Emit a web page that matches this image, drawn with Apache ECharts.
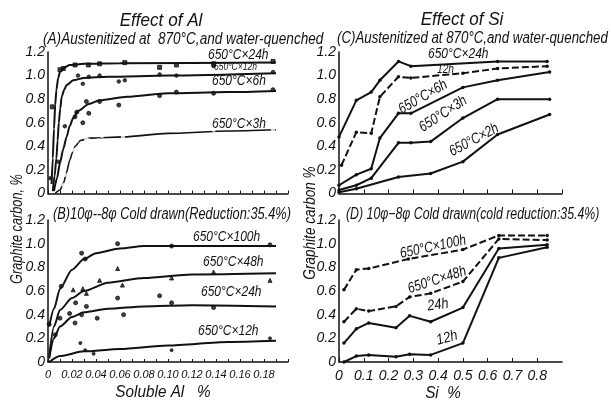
<!DOCTYPE html>
<html><head><meta charset="utf-8">
<script src="https://cdn.jsdelivr.net/npm/echarts@6/dist/echarts.min.js"></script>
<style>html,body{margin:0;padding:0;background:#fff}#c{width:611px;height:400px}</style>
</head><body><div id="c"></div>
<script>
// ---- Panel A: Effect of Al, austenitized 870°C & water-quenched ----
const alA24Pts = [[0.0036,0.735],[0.010,1.05],[0.0128,1.06],[0.0225,1.09],[0.0336,1.09],[0.043,1.10],[0.064,1.11],[0.093,1.07],[0.107,1.09],[0.138,1.10],[0.1875,1.12]];
const alA24Fit = [[0.003,0.08],[0.004,0.3],[0.005,0.55],[0.006,0.75],[0.007,0.88],[0.0085,0.98],[0.010,1.03],[0.014,1.07],[0.018,1.09],[0.03,1.10],[0.06,1.105],[0.19,1.11]];
const alA12Pts = [[0.002,0.13],[0.0086,0.27],[0.014,0.57],[0.025,1.0],[0.029,0.93],[0.034,0.99],[0.043,1.0],[0.059,0.95],[0.064,0.96],[0.093,1.01],[0.107,1.0],[0.138,1.08],[0.1875,1.03]];
const alA12Fit = [[0.004,0.02],[0.0055,0.15],[0.007,0.3],[0.008,0.45],[0.009,0.6],[0.0102,0.72],[0.0114,0.82],[0.0135,0.88],[0.0155,0.92],[0.021,0.96],[0.03,0.98],[0.05,0.99],[0.10,1.0],[0.19,1.02]];
const alA6Pts = [[0.0225,0.65],[0.024,0.69],[0.029,0.60],[0.032,0.78],[0.034,0.68],[0.043,0.78],[0.059,0.75],[0.093,0.83],[0.107,0.86],[0.138,0.85],[0.1875,0.88]];
const alA6Fit = [[0.005,0.02],[0.0075,0.13],[0.010,0.26],[0.0128,0.38],[0.0155,0.48],[0.018,0.57],[0.021,0.64],[0.025,0.70],[0.034,0.76],[0.043,0.79],[0.066,0.82],[0.10,0.85],[0.15,0.86],[0.19,0.87]];
const alA3Pts = [[0.013,0.07],[0.014,0.16],[0.021,0.37],[0.024,0.45],[0.029,0.31],[0.032,0.46],[0.034,0.45],[0.042,0.45],[0.045,0.49],[0.059,0.41],[0.0625,0.48],[0.093,0.48],[0.106,0.54],[0.138,0.54],[0.1875,0.54]];
const alA3Fit = [[0.006,0],[0.010,0.03],[0.013,0.09],[0.0155,0.18],[0.018,0.28],[0.0205,0.35],[0.0225,0.40],[0.027,0.45],[0.035,0.47],[0.063,0.48],[0.10,0.51],[0.15,0.53],[0.19,0.54]];

// ---- Panel B: Effect of Al, cold drawn ----
const alB100Pts = [[0.001,0.32],[0.011,0.64],[0.028,0.92],[0.031,0.87],[0.058,1.0],[0.103,0.98],[0.185,0.99]];
const alB100Fit = [[0.001,0.30],[0.005,0.45],[0.010,0.62],[0.020,0.78],[0.030,0.87],[0.040,0.92],[0.060,0.96],[0.080,0.98],[0.12,0.98],[0.19,0.98]];
const alB48Pts = [[0.021,0.61],[0.029,0.62],[0.032,0.58],[0.043,0.69],[0.058,0.79],[0.062,0.65],[0.103,0.71],[0.138,0.76],[0.185,0.69]];
const alB48Fit = [[0.001,0.05],[0.005,0.30],[0.010,0.44],[0.020,0.54],[0.030,0.60],[0.050,0.67],[0.080,0.71],[0.12,0.74],[0.19,0.75]];
const alB24Pts = [[0.006,0.23],[0.010,0.37],[0.018,0.41],[0.0225,0.33],[0.023,0.50],[0.028,0.40],[0.032,0.47],[0.041,0.37],[0.058,0.54],[0.063,0.40],[0.093,0.56],[0.103,0.50],[0.138,0.46]];
const alB24Fit = [[0.001,0.03],[0.005,0.20],[0.010,0.30],[0.020,0.38],[0.030,0.42],[0.050,0.45],[0.080,0.47],[0.12,0.48],[0.19,0.47]];
const alB12Pts = [[0.027,0.16],[0.031,0.10],[0.038,0.07],[0.103,0.10],[0.185,0.20]];
const alB12Fit = [[0.001,0],[0.010,0.05],[0.030,0.09],[0.060,0.11],[0.10,0.14],[0.15,0.17],[0.19,0.18]];

// ---- Panel C: Effect of Si, austenitized ----
const siC24 = [[0,0.48],[0.07,0.79],[0.13,0.86],[0.165,0.96],[0.24,1.12],[0.29,1.08],[0.64,1.12],[0.84,1.12]];
const siC12 = [[0.01,0.24],[0.07,0.52],[0.13,0.51],[0.165,0.82],[0.24,0.99],[0.29,0.98],[0.50,1.02],[0.64,1.06],[0.84,1.08]];
const siC6 = [[0,0.07],[0.07,0.16],[0.13,0.21],[0.165,0.47],[0.24,0.68],[0.29,0.68],[0.50,0.90],[0.64,0.96],[0.85,1.03]];
const siC3 = [[0,0.03],[0.07,0.07],[0.13,0.13],[0.24,0.43],[0.29,0.43],[0.37,0.44],[0.50,0.64],[0.64,0.80],[0.85,0.80]];
const siC2 = [[0,0.01],[0.07,0.04],[0.24,0.14],[0.37,0.17],[0.50,0.27],[0.64,0.50],[0.85,0.67]];

// ---- Panel D: Effect of Si, cold drawn ----
const siD100 = [[0.02,0.61],[0.07,0.78],[0.12,0.79],[0.28,0.87],[0.50,0.95],[0.645,1.07],[0.84,1.07]];
const siD48 = [[0.02,0.34],[0.07,0.45],[0.12,0.43],[0.23,0.47],[0.285,0.55],[0.37,0.58],[0.50,0.68],[0.645,1.04],[0.84,1.03]];
const siD24 = [[0.02,0.16],[0.07,0.28],[0.12,0.33],[0.23,0.29],[0.285,0.39],[0.37,0.34],[0.50,0.46],[0.645,0.96],[0.84,0.99]];
const siD12 = [[0.02,0.0],[0.07,0.05],[0.12,0.06],[0.23,0.045],[0.285,0.065],[0.37,0.06],[0.50,0.16],[0.645,0.88],[0.84,0.97]];

const FONT = "'Liberation Sans','DejaVu Sans',sans-serif";
const K = '#111';

const chart = echarts.init(document.getElementById('c'), null, {renderer:'canvas'});

function yAx(gi){
  return {gridIndex:gi, type:'value', min:0, max:1.2, interval:0.2,
    axisLine:{show:true, lineStyle:{color:K,width:1.5}},
    axisTick:{show:false}, splitLine:{show:false},
    axisLabel:{color:K, fontFamily:FONT, fontStyle:'italic', fontSize:14, margin:3,
      formatter:v=> v===0?'0':v.toFixed(1)}};
}
function xAl(gi, labels){
  return {gridIndex:gi, type:'value', min:0, max:0.2, interval:0.02,
    axisLine:{show:true, onZero:false, lineStyle:{color:K,width:1.5}},
    axisTick:{show:true, inside:true, length:3, lineStyle:{color:K}},
    minorTick:{show:true, splitNumber:2, length:3, lineStyle:{color:K}},
    splitLine:{show:false},
    axisLabel:{show:labels, color:K, fontFamily:FONT, fontStyle:'italic', fontSize:11, margin:7,
      showMaxLabel:false, formatter:v=> v===0?'0':v.toFixed(2)}};
}
function xSi(gi, labels){
  return {gridIndex:gi, type:'value', min:0, max:0.9, interval:0.1,
    axisLine:{show:true, onZero:false, lineStyle:{color:K,width:1.5}},
    axisTick:{show:true, inside:true, length:4, lineStyle:{color:K}},
    splitLine:{show:false},
    axisLabel:{show:labels, color:K, fontFamily:FONT, fontStyle:'italic', fontSize:14, margin:7,
      showMaxLabel:false, formatter:v=> v===0?'0':v.toFixed(1)}};
}

const series = [];
function fit(ax, data, w){
  series.push({type:'line', xAxisIndex:ax, yAxisIndex:ax, data, smooth:0.25, smoothMonotone:'x',
    symbol:'none', lineStyle:{color:K, width:w||2}, z:3, silent:true});
}
function pts(ax, data, sym, size){
  series.push({type:'scatter', xAxisIndex:ax, yAxisIndex:ax, data, symbol:sym, symbolSize:size||4,
    itemStyle:{color: sym==='emptyCircle' ? 'rgba(255,255,255,0)' : K, borderColor:K, borderWidth:1}, z:4, silent:true});
}
function poly(ax, data, dashed){
  series.push({type:'line', xAxisIndex:ax, yAxisIndex:ax, data, symbol:'circle', symbolSize:3.5,
    itemStyle:{color:K}, lineStyle:{color:K, width:2, type: dashed? [7,3] : 'solid'}, z:3, silent:true});
}

fit(0, alA24Fit); pts(0, alA24Pts, 'rect', 4);
fit(0, alA12Fit); pts(0, alA12Pts, 'circle', 3.5);
fit(0, alA6Fit);  pts(0, alA6Pts, 'circle', 4);
fit(0, alA3Fit, 1.6);  pts(0, alA3Pts, 'emptyCircle', 4.5);

fit(1, alB100Fit); pts(1, alB100Pts, 'circle', 4);
fit(1, alB48Fit);  pts(1, alB48Pts, 'triangle', 4);
fit(1, alB24Fit);  pts(1, alB24Pts, 'circle', 4);
fit(1, alB12Fit);  pts(1, alB12Pts, 'circle', 3);

poly(2, siC24); poly(2, siC12, true); poly(2, siC6); poly(2, siC3); poly(2, siC2);
poly(3, siD100, true); poly(3, siD48, true); poly(3, siD24); poly(3, siD12);

function txt(x, y, t, size, rot, align, sx){
  return {type:'text', x, y, rotation: rot? rot*Math.PI/180 : 0, scaleX: sx||1,
    style:{text:t, fill:K, font:`italic ${size}px ${FONT}`, textAlign:align||'left', textVerticalAlign:'middle'}};
}

chart.setOption({
  animation:false,
  backgroundColor:'#fff',
  grid:[
    {left:48, top:52, width:240, height:141.5},
    {left:48, top:220, width:240, height:142},
    {left:339, top:52, width:223, height:141.5},
    {left:339, top:220, width:223, height:142}
  ],
  xAxis:[xAl(0,false), xAl(1,true), xSi(2,false), xSi(3,true)],
  yAxis:[yAx(0), yAx(1), yAx(2), yAx(3)],
  series,
  graphic:[
    txt(161, 21, 'Effect of Al', 18, 0, 'center', 0.95),
    txt(462, 20, 'Effect of Si', 18, 0, 'center', 0.95),
    txt(43, 40, '(A)Austenitized at  870°C,and water-quenched', 16, 0, 'left', 0.85),
    txt(337, 39, '(C)Austenitized at 870°C,and water-quenched', 16, 0, 'left', 0.83),
    txt(53, 215, '(B)10φ--8φ Cold drawn(Reduction:35.4%)', 16, 0, 'left', 0.8),
    txt(346, 215, '(D) 10φ−8φ Cold drawn(cold reduction:35.4%)', 16, 0, 'left', 0.77),
    txt(163, 392, 'Soluble Al   %', 17, 0, 'center', 0.9),
    txt(443, 393, 'Si  %', 17, 0, 'center', 0.9),
    txt(17, 229, 'Graphite carbon, %', 17, 90, 'center', 0.75),
    txt(310, 223, 'Graphite carbon %', 17, 90, 'center', 0.8),
    // panel A curve labels
    txt(208, 55, '650°C×24h', 15, 0, 'left', 0.8),
    txt(214, 67, '650°C×12h', 10, 0, 'left', 0.85),
    txt(212, 81, '650°C×6h', 15, 0, 'left', 0.8),
    txt(212, 124, '650°C×3h', 15, 0, 'left', 0.8),
    // panel B curve labels
    txt(193, 237, '650°C×100h', 15, 0, 'left', 0.8),
    txt(203, 262, '650°C×48h', 15, 0, 'left', 0.8),
    txt(201, 292, '650°C×24h', 15, 0, 'left', 0.8),
    txt(198, 331, '650°C×12h', 15, 0, 'left', 0.8),
    // panel C curve labels
    txt(428, 54, '650°C×24h', 15, 0, 'left', 0.8),
    txt(437, 70, '12h', 12, 0, 'left', 0.85),
    txt(423, 97, '650°C×6h', 15, 30, 'center', 0.8),
    txt(443, 114, '650°C×3h', 15, 33, 'center', 0.8),
    txt(474, 140, '650°C×2h', 15, 28, 'center', 0.8),
    // panel D curve labels
    txt(433, 247, '650°C×100h', 15, 12, 'center', 0.8),
    txt(437, 280, '650°C×48h', 15, 18, 'center', 0.8),
    txt(438, 305, '24h', 15, 8, 'center', 0.85),
    txt(447, 338, '12h', 15, 15, 'center', 0.85)
  ]
});
</script></body></html>
